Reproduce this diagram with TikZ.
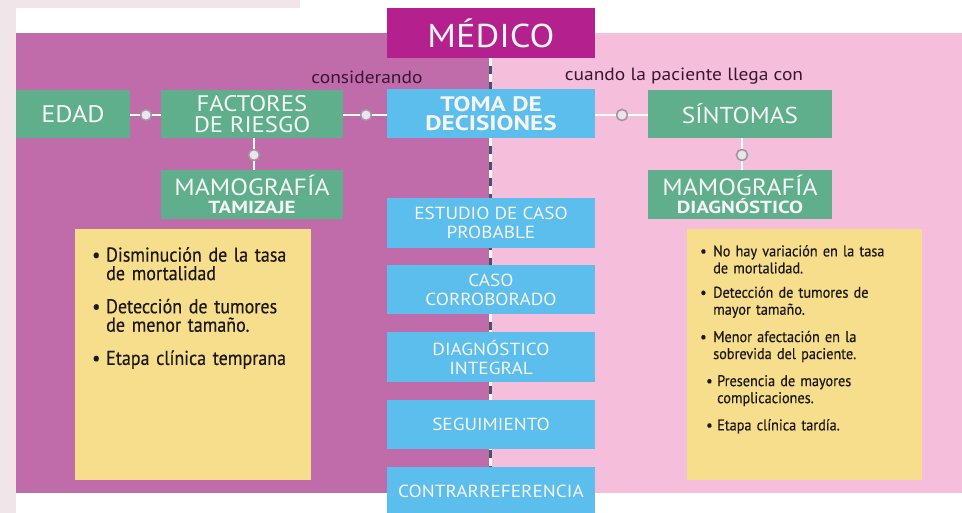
\documentclass[tikz,border=0pt]{standalone}
\usepackage{fontspec}
\setmainfont{PT Sans}
\newfontfamily\boxf{PT Sans}[FakeStretch=1.1]
\newfontfamily\wideb{PT Sans}[FakeStretch=1.2]
\newfontfamily\condf{PT Sans}[FakeStretch=0.9, FakeBold=0.4]
\newfontfamily\condg{PT Sans}[FakeStretch=0.92, FakeBold=0.4]
\definecolor{purplebg}{RGB}{192,108,170}
\definecolor{pinkbg}{RGB}{245,190,218}
\definecolor{medicoc}{RGB}{180,32,142}
\definecolor{greenc}{RGB}{96,175,140}
\definecolor{bluec}{RGB}{92,190,236}
\definecolor{yellowc}{RGB}{246,222,140}
\definecolor{dashc}{RGB}{72,84,110}
\definecolor{photoc}{RGB}{240,230,233}
\definecolor{labelc}{RGB}{58,22,52}
\definecolor{ringc}{RGB}{160,150,160}
\definecolor{dotfill}{RGB}{236,230,236}
\definecolor{textc}{RGB}{28,24,20}
\definecolor{boxtext}{RGB}{246,246,246}
\tikzset{
  box/.style={rectangle, inner sep=0pt, text=boxtext, align=center},
  greenbox/.style={box, fill=greenc},
  bluebox/.style={box, fill=bluec, minimum width=208pt, font=\boxf\fontsize{17.5}{19}\selectfont},
  dot/.style={circle, draw=ringc, fill=dotfill, line width=1.6pt, minimum size=11pt, inner sep=0pt},
  link/.style={draw=white, line width=2pt},
  note/.style={rectangle, fill=yellowc, inner sep=0pt, anchor=north west},
  lab/.style={text=labelc, font=\boxf\fontsize{17.7}{19}\selectfont}
}
\newcommand{\bitem}[3]{\noindent\makebox[#1][l]{\textbullet}\parbox[t]{#2}{#3}\par}
\begin{document}
\begin{tikzpicture}[x=1pt,y=-1pt]
\useasboundingbox (0,0) rectangle (962,513);
% backgrounds
\fill[white] (0,0) rectangle (962,513);
\fill[photoc] (0,0) rectangle (16,513);
\fill[photoc] (0,0) rectangle (300,8);
\fill[purplebg] (16,33) rectangle (490,493);
\fill[pinkbg] (490,33) rectangle (962,493);
% dashed axis
\coordinate (axtop) at (490,58);
\coordinate (axbot) at (490,513);
\draw[dashc, line width=3pt] (axtop) -- (axbot);
\draw[white, line width=3pt, dash pattern=on 8pt off 8pt] (axtop) -- (axbot);
% yellow notes
\node[note, minimum width=236pt, minimum height=251pt] (noteL) at (75,229) {};
\node[note, minimum width=235pt, minimum height=251pt] (noteR) at (687,229) {};
\node[anchor=north west, text width=215pt, inner sep=0pt, text=textc,
      font=\condf\fontsize{20}{18.5}\selectfont] (listL) at (92,247) {%
  \bitem{14pt}{195pt}{Disminución de la tasa\\de mortalidad}\vspace{17.5pt}
  \bitem{14pt}{195pt}{Detección de tumores\\de menor tamaño.}\vspace{17.5pt}
  \bitem{14pt}{195pt}{Etapa clínica temprana}};
\node[anchor=north west, text width=215pt, inner sep=0pt, text=textc,
      font=\condg\fontsize{15.5}{17}\selectfont] (listR) at (700,245) {%
  \bitem{13pt}{195pt}{No hay variación en la tasa\\de mortalidad.}\vspace{12pt}
  \bitem{13pt}{195pt}{Detección de tumores de\\mayor tamaño.}\vspace{12pt}
  \bitem{13pt}{195pt}{Menor afectación en la\\sobrevida del paciente.}\vspace{12pt}
  \hspace*{6pt}\bitem{11pt}{195pt}{Presencia de mayores\\complicaciones.}\vspace{12pt}
  \hspace*{6pt}\bitem{11pt}{195pt}{Etapa clínica tardía.}};
% header
\node[box, fill=medicoc, minimum width=208pt, minimum height=50pt,
      font=\boxf\fontsize{33}{36}\selectfont] (medico) at (491,33) {MÉDICO};
% main row
\node[greenbox, minimum width=114pt, minimum height=48pt,
      font=\boxf\fontsize{24}{26}\selectfont] (edad) at (73,114) {EDAD};
\node[greenbox, minimum width=182pt, minimum height=48pt,
      font=\boxf\fontsize{22.5}{20.5}\selectfont] (factores) at (252,114) {FACTORES\\DE RIESGO};
\node[box, fill=bluec, minimum width=208pt, minimum height=49pt,
      font=\wideb\bfseries\fontsize{21}{19}\selectfont] (toma) at (491,114) {TOMA DE\\DECISIONES};
\node[greenbox, minimum width=184pt, minimum height=48pt,
      font=\boxf\fontsize{23}{24}\selectfont] (sintomas) at (740,114) {SÍNTOMAS};
\node[greenbox, minimum width=182pt, minimum height=49pt,
      font=\boxf\fontsize{23.5}{18.5}\selectfont] (mamoT) at (252,194.5)
      {MAMOGRAFÍA\\{\wideb\bfseries\fontsize{17.5}{18.5}\selectfont TAMIZAJE}};
\node[greenbox, minimum width=184pt, minimum height=49pt,
      font=\boxf\fontsize{23.5}{18.5}\selectfont] (mamoD) at (740,194.5)
      {MAMOGRAFÍA\\{\wideb\bfseries\fontsize{17.5}{18.5}\selectfont DIAGNÓSTICO}};
% labels
\node[lab] (consid) at (367,77) {considerando};
\node[lab] (cuando) at (684,76) {cuando la paciente llega con};
% dots and links
\node[dot] (d1) at (146,115) {};
\node[dot] (d2) at (366,115) {};
\node[dot] (d3) at (622,115) {};
\node[dot] (d4) at (254,155) {};
\node[dot] (d5) at (742,155) {};
\path[link] (edad.east |- d1) -- (d1);
\path[link] (d1) -- (factores.west |- d1);
\path[link] (factores.east |- d2) -- (d2);
\path[link] (d2) -- (toma.west |- d2);
\path[link] (toma.east |- d3) -- (d3);
\path[link] (d3) -- (sintomas.west |- d3);
\path[link] (factores.south -| d4) -- (d4);
\path[link] (d4) -- (mamoT.north -| d4);
\path[link] (sintomas.south -| d5) -- (d5);
\path[link] (d5) -- (mamoD.north -| d5);
% blue stack
\node[bluebox, minimum height=50pt] (estudio) at (491,223) {ESTUDIO DE CASO\\PROBABLE};
\node[bluebox, minimum height=49pt] (caso) at (491,289.5) {CASO\\CORROBORADO};
\node[bluebox, minimum height=50pt] (diag) at (491,357) {DIAGNÓSTICO\\INTEGRAL};
\node[bluebox, minimum height=49pt] (seg) at (491,424.5) {SEGUIMIENTO};
\node[bluebox, minimum height=49pt] (contra) at (491,491.5) {CONTRARREFERENCIA};
\end{tikzpicture}
\end{document}
